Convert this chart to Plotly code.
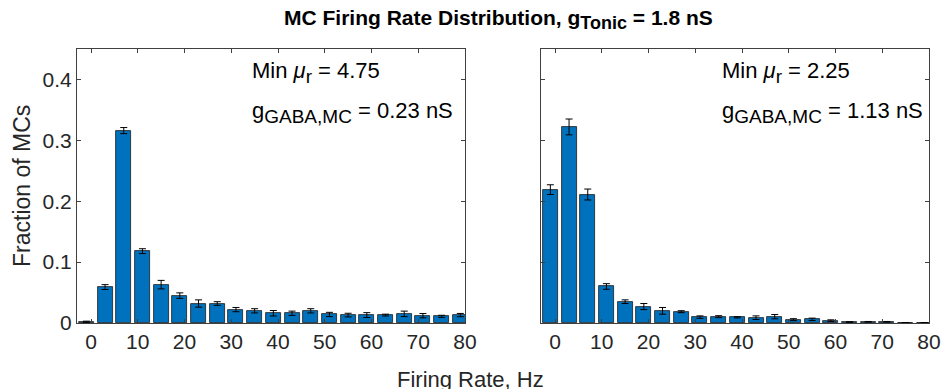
import plotly.graph_objects as go

# Bin centers (Hz)
bin_centers = [-1 + 4 * k for k in range(21)]

# Left panel: Min mu_r = 4.75, g_GABA,MC = 0.23 nS
left_vals = [0.002, 0.059, 0.316, 0.118, 0.063, 0.045, 0.032, 0.032, 0.022, 0.020,
             0.016, 0.016, 0.020, 0.014, 0.013, 0.013, 0.013, 0.015, 0.012, 0.011, 0.013]
left_err = [0.001, 0.004, 0.005, 0.004, 0.007, 0.0045, 0.006, 0.003, 0.0035, 0.0035,
            0.0045, 0.0035, 0.0035, 0.0035, 0.003, 0.004, 0.0015, 0.0045, 0.0035, 0.0017, 0.0027]

# Right panel: Min mu_r = 2.25, g_GABA,MC = 1.13 nS
right_vals = [0.219, 0.322, 0.211, 0.060, 0.035, 0.027, 0.020, 0.0186, 0.0097, 0.0104,
              0.0093, 0.0087, 0.0104, 0.0055, 0.006, 0.0038, 0.0016, 0.002, 0.002, 0.0005, 0.0003]
right_err = [0.008, 0.013, 0.009, 0.0046, 0.003, 0.005, 0.0055, 0.0016, 0.002, 0.0016,
             0.001, 0.003, 0.0035, 0.0016, 0.002, 0.0014, 0.0005, 0.0005, 0.0005, 0.0003, 0.0003]

x_ticks = [0, 10, 20, 30, 40, 50, 60, 70, 80]
y_ticks = [0, 0.1, 0.2, 0.3, 0.4]
y_tick_text = ["0", "0.1", "0.2", "0.3", "0.4"]

FONT = "Arial, Liberation Sans, sans-serif"
TXT = "#262626"
BAR = "#0072BD"

fig = go.Figure()
for vals, err, xa, ya in [(left_vals, left_err, "x", "y"), (right_vals, right_err, "x2", "y2")]:
    fig.add_trace(go.Bar(
        x=bin_centers, y=vals, width=3.2,
        marker=dict(color=BAR, line=dict(color="#1a1a1a", width=0.8)),
        error_y=dict(type="data", array=err, visible=True, color="black", thickness=1, width=3.5),
        xaxis=xa, yaxis=ya, showlegend=False,
    ))

ax_common = dict(
    range=[-3, 80], tickvals=x_ticks, ticks="inside", ticklen=4, tickcolor="#404040",
    showline=True, linecolor="#404040", linewidth=1, mirror="ticks", showgrid=False,
    zeroline=False, automargin=False, tickfont=dict(family=FONT, size=21, color=TXT),
)
ay_common = dict(
    range=[0, 0.45], tickvals=y_ticks, ticktext=y_tick_text, ticks="inside", ticklen=4,
    tickcolor="#404040", showline=True, linecolor="#404040", linewidth=1, mirror="ticks",
    showgrid=False, zeroline=False, automargin=False,
    tickfont=dict(family=FONT, size=21, color=TXT),
)

y_dom = [1 - 323 / 389, 1 - 49 / 389]
fig.update_layout(
    width=945, height=389,
    margin=dict(l=0, r=0, t=0, b=0, pad=0, autoexpand=False),
    paper_bgcolor="white", plot_bgcolor="white",
    bargap=0,
    xaxis=dict(domain=[77 / 945, 465 / 945], anchor="y", **ax_common),
    yaxis=dict(domain=y_dom, anchor="x", **ay_common),
    xaxis2=dict(domain=[541 / 945, 929 / 945], anchor="y2", **ax_common),
    yaxis2=dict(domain=y_dom, anchor="x2", showticklabels=False, **ay_common),
)

SUB = '<sub><span style="font-size:19px">{}</span></sub>'

annotations = [
    dict(text="<b>MC Firing Rate Distribution, g" + '<sub><span style="font-size:18px">Tonic</span></sub>'
              + " = 1.8 nS</b>",
         x=498 / 945, y=1 - 20 / 389, xref="paper", yref="paper",
         xanchor="center", yanchor="middle", showarrow=False,
         font=dict(family=FONT, size=21, color="black")),
    dict(text="Fraction of MCs", x=22 / 945, y=1 - 186 / 389, xref="paper", yref="paper",
         textangle=-90, xanchor="center", yanchor="middle", showarrow=False,
         font=dict(family=FONT, size=23, color=TXT)),
    dict(text="Firing Rate, Hz", x=470 / 945, y=1 - 379 / 389, xref="paper", yref="paper",
         xanchor="center", yanchor="middle", showarrow=False,
         font=dict(family=FONT, size=22, color=TXT)),
]
for xr, yr, xpos, mu, g in [("x", "y", 34.0, "4.75", "0.23"), ("x2", "y2", 35.2, "2.25", "1.13")]:
    annotations.append(dict(
        text="Min <i>μ</i>" + SUB.format("r") + " = " + mu, x=xpos, y=0.412,
        xref=xr, yref=yr, xanchor="left", yanchor="middle", showarrow=False,
        font=dict(family=FONT, size=22, color="black")))
    annotations.append(dict(
        text="g" + SUB.format("GABA,MC") + " = " + g + " nS", x=xpos, y=0.345,
        xref=xr, yref=yr, xanchor="left", yanchor="middle", showarrow=False,
        font=dict(family=FONT, size=22, color="black")))
fig.update_layout(annotations=annotations)

fig.write_html("out.html")
